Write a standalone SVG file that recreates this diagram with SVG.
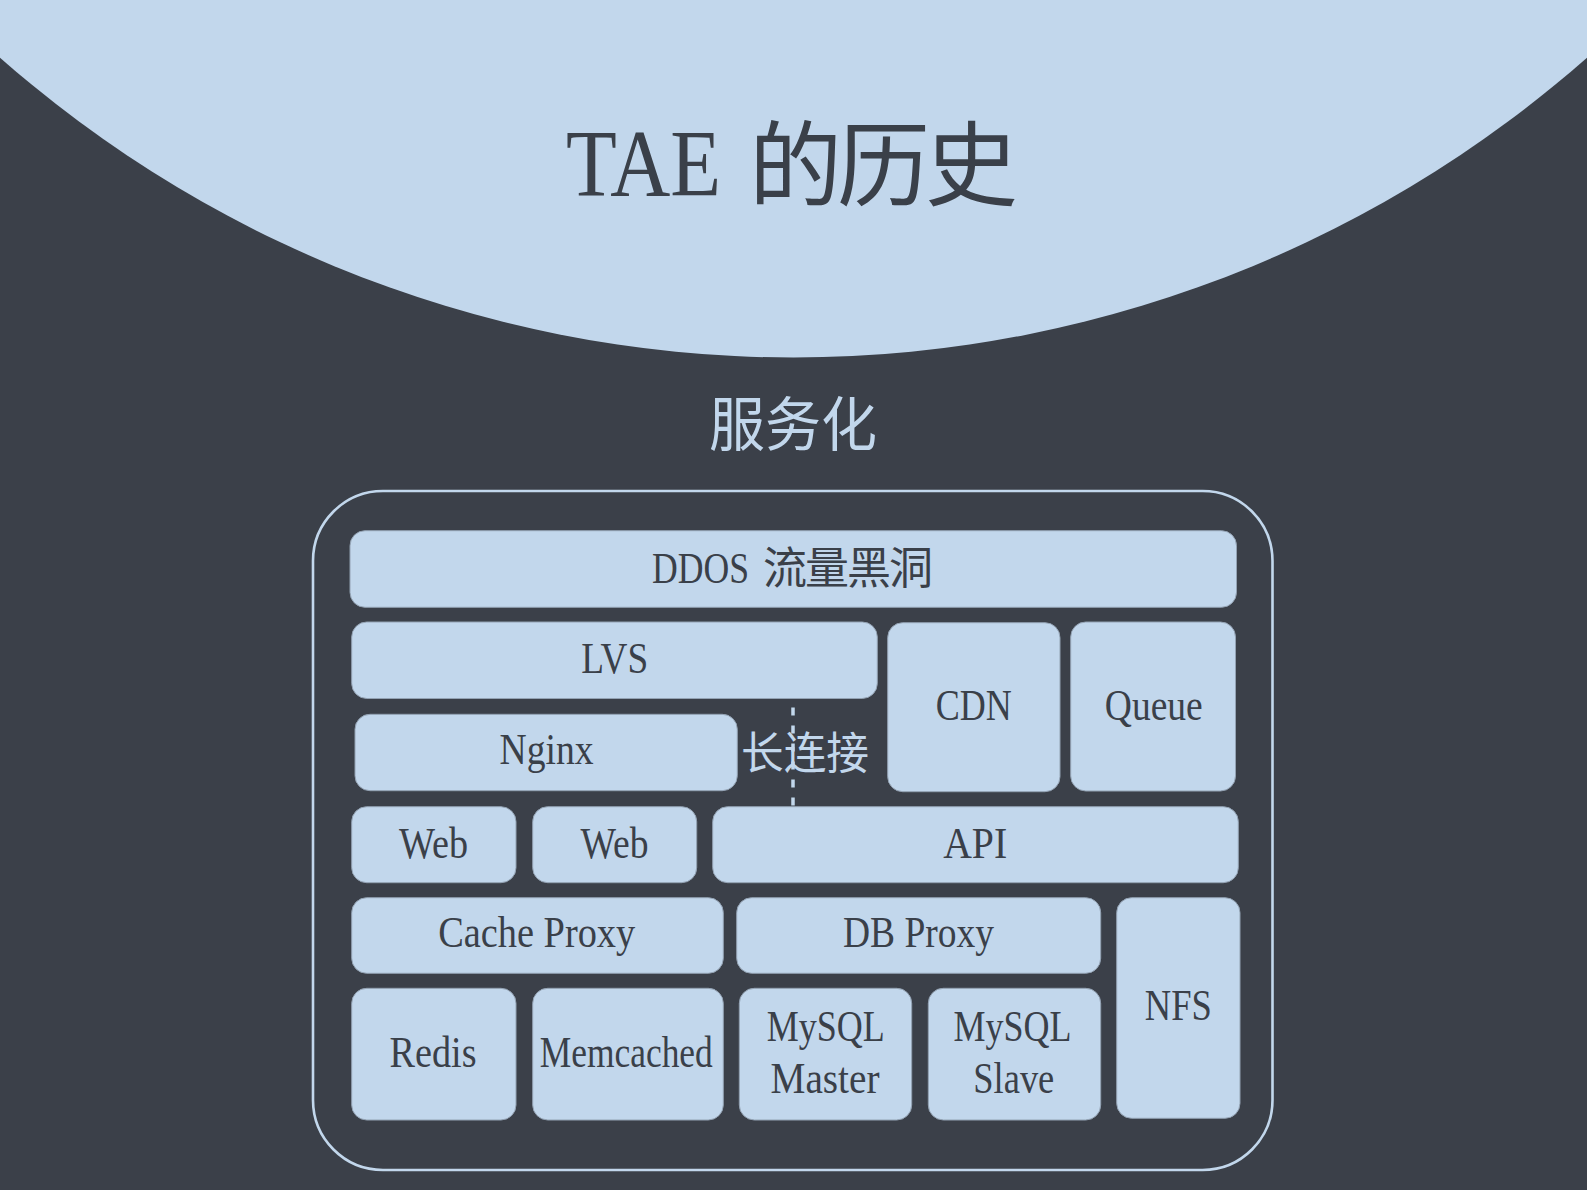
<svg xmlns="http://www.w3.org/2000/svg" width="1587" height="1190" viewBox="0 0 1587 1190">
<style>
.box{fill:#c2d7ec;stroke:#93a2b3;stroke-width:1}
.lbl{font-family:"Liberation Serif","Noto Sans CJK SC",serif;font-size:45px;fill:#3a4049;text-anchor:middle}
.cjk{font-family:"Noto Sans CJK SC",sans-serif}
.light{fill:#c2d7ec}
</style>
<rect x="0" y="0" width="1587" height="1190" fill="#3b4049"/>
<circle cx="793.5" cy="-842.5" r="1200" fill="#c2d7ec"/>
<g id="title">
<text y="196" style="font-family:'Liberation Serif','Noto Sans CJK SC',serif;font-size:96px;fill:#3a4049"><tspan x="566" textLength="155" lengthAdjust="spacingAndGlyphs">TAE</tspan><tspan> </tspan><tspan class="cjk" x="749" y="199" style="font-size:93px;letter-spacing:-5px">的历史</tspan></text>
</g>
<g id="subtitle">
<text x="793" y="446" class="lbl cjk light" style="font-size:59px" textLength="168" lengthAdjust="spacingAndGlyphs">服务化</text>
</g>
<g id="frame">
<rect x="313" y="491" width="959.5" height="679" rx="70" ry="70" fill="none" stroke="#c2d7ec" stroke-width="2.6"/>
</g>
<g id="ddos">
<rect class="box" x="350" y="530.7" width="886.5" height="76.6" rx="15"/>
<text class="lbl" y="582.5" style="text-anchor:start"><tspan x="652" textLength="97" lengthAdjust="spacingAndGlyphs">DDOS</tspan><tspan> </tspan><tspan class="cjk" x="763" y="584" style="font-size:44px;letter-spacing:-2px">流量黑洞</tspan></text>
</g>
<g id="lvs">
<rect class="box" x="351.7" y="622" width="525.6" height="76.5" rx="15"/>
<text class="lbl" x="614.7" y="673.3" textLength="67" lengthAdjust="spacingAndGlyphs">LVS</text>
</g>
<g id="cdn">
<rect class="box" x="887.7" y="622.7" width="172.3" height="169" rx="15"/>
<text class="lbl" x="973.7" y="720" textLength="76" lengthAdjust="spacingAndGlyphs">CDN</text>
</g>
<g id="queue">
<rect class="box" x="1070.7" y="622" width="164.8" height="169" rx="15"/>
<text class="lbl" x="1153.8" y="720" textLength="98" lengthAdjust="spacingAndGlyphs">Queue</text>
</g>
<g id="nginx">
<rect class="box" x="355" y="714.3" width="382.3" height="76.4" rx="15"/>
<text class="lbl" x="546.5" y="764" textLength="94" lengthAdjust="spacingAndGlyphs">Nginx</text>
</g>
<g id="web1">
<rect class="box" x="351.7" y="806.7" width="164.3" height="76" rx="15"/>
<text class="lbl" x="433.5" y="857.7" textLength="69" lengthAdjust="spacingAndGlyphs">Web</text>
</g>
<g id="web2">
<rect class="box" x="532.7" y="806.7" width="164" height="76" rx="15"/>
<text class="lbl" x="614.5" y="857.7" textLength="68" lengthAdjust="spacingAndGlyphs">Web</text>
</g>
<g id="api">
<rect class="box" x="712.7" y="806.7" width="525.6" height="76" rx="15"/>
<text class="lbl" x="975.2" y="857.7" textLength="64" lengthAdjust="spacingAndGlyphs">API</text>
</g>
<g id="cache-proxy">
<rect class="box" x="351.7" y="897.7" width="371.6" height="75.6" rx="15"/>
<text class="lbl" x="536.7" y="946.7" textLength="197" lengthAdjust="spacingAndGlyphs">Cache Proxy</text>
</g>
<g id="db-proxy">
<rect class="box" x="736.7" y="897.7" width="364" height="75.6" rx="15"/>
<text class="lbl" x="918.5" y="946.7" textLength="151" lengthAdjust="spacingAndGlyphs">DB Proxy</text>
</g>
<g id="nfs">
<rect class="box" x="1116.7" y="897.7" width="123.3" height="220.6" rx="15"/>
<text class="lbl" x="1178.3" y="1020" textLength="67" lengthAdjust="spacingAndGlyphs">NFS</text>
</g>
<g id="redis">
<rect class="box" x="351.7" y="988.3" width="164.3" height="131.7" rx="15"/>
<text class="lbl" x="433" y="1067.3" textLength="87" lengthAdjust="spacingAndGlyphs">Redis</text>
</g>
<g id="memcached">
<rect class="box" x="532.7" y="988.3" width="190.6" height="131.7" rx="15"/>
<text class="lbl" x="626.3" y="1067.3" textLength="173" lengthAdjust="spacingAndGlyphs">Memcached</text>
</g>
<g id="mysql-master">
<rect class="box" x="739.3" y="988.3" width="172.4" height="131.7" rx="15"/>
<text class="lbl"><tspan x="825.8" y="1040.7" textLength="118" lengthAdjust="spacingAndGlyphs">MySQL</tspan><tspan x="825" y="1093.3" textLength="109" lengthAdjust="spacingAndGlyphs">Master</tspan></text>
</g>
<g id="mysql-slave">
<rect class="box" x="928.3" y="988.3" width="172.4" height="131.7" rx="15"/>
<text class="lbl"><tspan x="1012.5" y="1040.7" textLength="118" lengthAdjust="spacingAndGlyphs">MySQL</tspan><tspan x="1013.8" y="1093.3" textLength="81" lengthAdjust="spacingAndGlyphs">Slave</tspan></text>
</g>
<g id="connectors">
<line x1="793" y1="707.5" x2="793" y2="806.5" stroke="#c2d7ec" stroke-width="3.5" stroke-dasharray="8 10"/>
<text class="lbl cjk light" x="805" y="768.5" style="font-size:44px" textLength="128" lengthAdjust="spacingAndGlyphs">长连接</text>
</g>
</svg>
